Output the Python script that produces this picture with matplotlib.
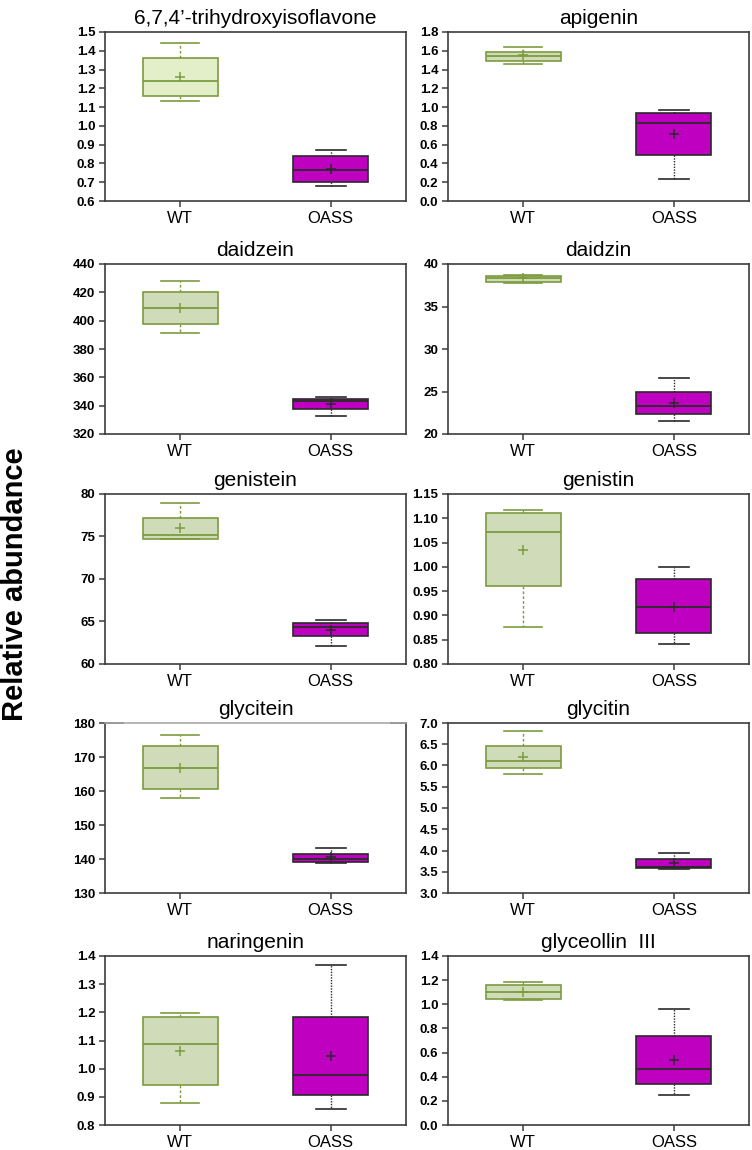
import numpy as np
import matplotlib.pyplot as plt

plt.rcParams['font.family'] = ['Liberation Sans', 'DejaVu Sans']

# Datos (min, Q1, mediana, Q3, max, media)
names = ["6,7,4\u2019-trihydroxyisoflavone", "apigenin", "daidzein", "daidzin",
         "genistein", "genistin", "glycitein", "glycitin", "naringenin",
         "glyceollin  III"]
groups = ["WT", "OASS"]

wt_lo   = [1.130, 1.454, 391.2, 37.76, 74.65, 0.877, 157.9, 5.79, 0.879, 1.039]
wt_q1   = [1.160, 1.493, 397.8, 37.92, 74.70, 0.960, 160.6, 5.94, 0.943, 1.047]
wt_med  = [1.237, 1.542, 408.6, 38.31, 75.13, 1.072, 166.7, 6.11, 1.088, 1.100]
wt_q3   = [1.360, 1.592, 420.0, 38.59, 77.17, 1.110, 173.1, 6.45, 1.185, 1.163]
wt_hi   = [1.440, 1.645, 427.7, 38.70, 78.90, 1.118, 176.6, 6.80, 1.198, 1.188]
wt_mean = [1.262, 1.550, 408.9, 38.30, 75.95, 1.035, 166.8, 6.21, 1.063, 1.102]

oa_lo   = [0.681, 0.233, 332.5, 21.50, 62.12, 0.841, 138.9, 3.57, 0.857, 0.248]
oa_q1   = [0.701, 0.490, 337.7, 22.32, 63.26, 0.863, 139.1, 3.58, 0.907, 0.339]
oa_med  = [0.765, 0.829, 343.3, 23.30, 64.40, 0.917, 140.0, 3.61, 0.976, 0.466]
oa_q3   = [0.842, 0.942, 344.5, 25.00, 64.80, 0.975, 141.4, 3.79, 1.182, 0.736]
oa_hi   = [0.874, 0.970, 345.9, 26.56, 65.19, 1.000, 143.2, 3.93, 1.369, 0.962]
oa_mean = [0.770, 0.716, 341.2, 23.65, 64.01, 0.918, 140.5, 3.70, 1.044, 0.535]

ylims  = [(0.6, 1.5), (0.0, 1.8), (320, 440), (20, 40), (60, 80),
          (0.80, 1.15), (130, 180), (3.0, 7.0), (0.8, 1.4), (0.0, 1.4)]
ysteps = [0.1, 0.2, 20, 5, 5, 0.05, 10, 0.5, 0.1, 0.2]
yfmt   = ["%.1f", "%.1f", "%d", "%d", "%d", "%.2f", "%d", "%.1f", "%.1f", "%.1f"]

# colores
verde_borde = "#7c9c3e"
verde_caja = "#d0dcb9"
verde_claro = "#e3efc8"
magenta = "#c000c0"
oscuro = "#2a2a2a"
eje = "#3c3c3c"

W, H = 752, 1150
fig = plt.figure(figsize=(W/100, H/100), dpi=100)

col_x = [105, 448]
ancho = 301
filas = [(32, 201), (264, 434), (494, 664), (723, 893), (956, 1125)]

for i, name in enumerate(names):
    r, c = divmod(i, 2)
    top, bot = filas[r]
    ax = fig.add_axes([col_x[c]/W, 1 - bot/H, ancho/W, (bot - top)/H])

    st_wt = [dict(whislo=wt_lo[i], q1=wt_q1[i], med=wt_med[i], q3=wt_q3[i],
                  whishi=wt_hi[i], mean=wt_mean[i], fliers=[])]
    st_oa = [dict(whislo=oa_lo[i], q1=oa_q1[i], med=oa_med[i], q3=oa_q3[i],
                  whishi=oa_hi[i], mean=oa_mean[i], fliers=[])]

    cara = verde_claro if i == 0 else verde_caja
    ax.bxp(st_wt, positions=[1], widths=0.5, capwidths=[0.25], showmeans=True,
           patch_artist=True, manage_ticks=False,
           boxprops=dict(facecolor=cara, edgecolor=verde_borde, linewidth=1.2),
           medianprops=dict(color=verde_borde, linewidth=1.3),
           whiskerprops=dict(color=verde_borde, linewidth=1.0, linestyle=(0, (2, 1.5))),
           capprops=dict(color=verde_borde, linewidth=1.2),
           meanprops=dict(marker="+", markeredgecolor=verde_borde, markersize=7,
                          markeredgewidth=1.1))
    ax.bxp(st_oa, positions=[2], widths=0.5, capwidths=[0.2], showmeans=True,
           patch_artist=True, manage_ticks=False,
           boxprops=dict(facecolor=magenta, edgecolor=oscuro, linewidth=1.2),
           medianprops=dict(color=oscuro, linewidth=1.3),
           whiskerprops=dict(color=oscuro, linewidth=1.0, linestyle=(0, (1, 1))),
           capprops=dict(color=oscuro, linewidth=1.2),
           meanprops=dict(marker="+", markeredgecolor=oscuro, markersize=7,
                          markeredgewidth=1.1))

    ax.set_xlim(0.5, 2.5)
    ax.set_xticks([1, 2])
    ax.set_xticklabels(groups, fontsize=12)
    lo, hi = ylims[i]
    yt = np.arange(lo, hi + ysteps[i]/2, ysteps[i])
    ax.set_ylim(lo, hi)
    ax.set_yticks(yt)
    ax.set_yticklabels([yfmt[i] % v for v in yt], fontsize=9.5, fontweight="bold")
    ax.tick_params(direction="out", length=4, width=1.1, color=eje, pad=3)
    for s in ax.spines.values():
        s.set_color(eje)
        s.set_linewidth(1.2)
    ax.set_title(name, fontsize=15, pad=6)

    if name == "glycitein":
        ax.spines["top"].set_color("#a8a8a8")
        ax.plot([0, 0.06], [1, 1], color=eje, lw=1.2, transform=ax.transAxes, clip_on=False)
        ax.plot([0.95, 1], [1, 1], color=eje, lw=1.2, transform=ax.transAxes, clip_on=False)

fig.text(15/W, 1 - 584/H, "Relative abundance", rotation=90, fontsize=21,
         fontweight="bold", ha="center", va="center")

fig.savefig("out.png", dpi=100)
